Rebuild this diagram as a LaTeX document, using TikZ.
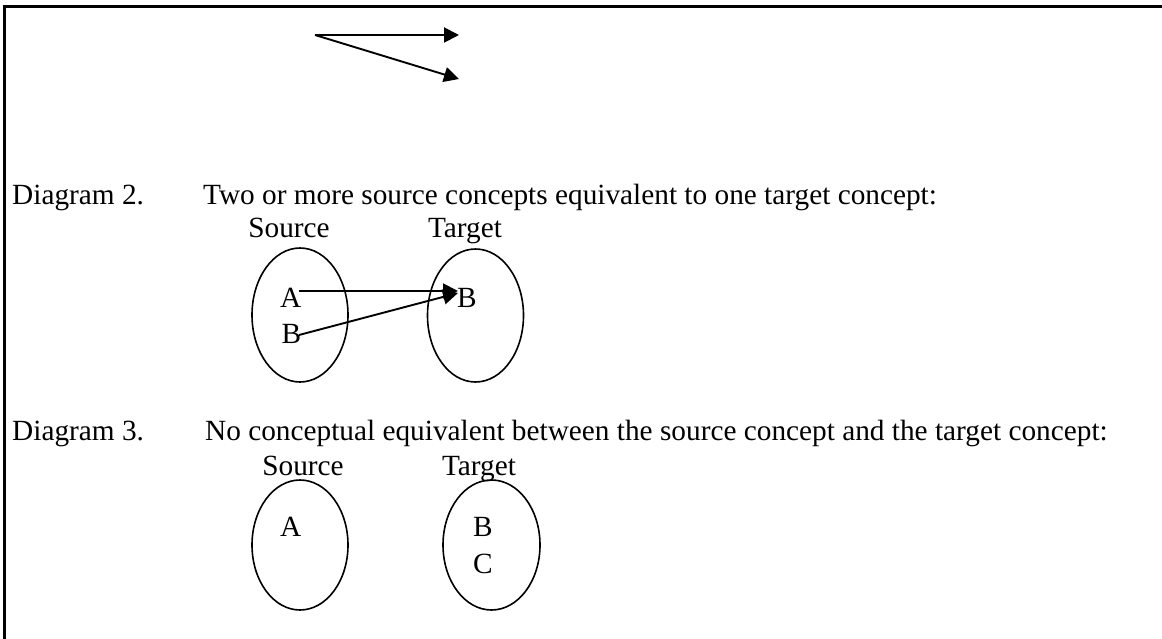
\documentclass[tikz,border=0pt]{standalone}
\usepackage{fontspec}
\setmainfont{Liberation Serif}
\usetikzlibrary{arrows.meta,shapes.geometric}
\begin{document}
\begin{tikzpicture}[x=1pt,y=-1pt,
  txt/.style={inner sep=0pt,font=\fontsize{29.3}{35}\selectfont},
  oval/.style={draw,ellipse,line width=1.6pt,inner sep=0pt},
  conn/.style={line width=1.9pt,-{Triangle[length=15pt,width=15pt]}}]
\useasboundingbox (0,0) rectangle (1162,639);
% frame
\draw[line width=3pt] (4.5,660) -- (4.5,7) -- (1180,7);
% top arrows
\coordinate (t0) at (315,35);
\coordinate (t1) at (459,35);
\coordinate (t2) at (459,79);
\draw[conn] (t0) -- (t1);
\draw[conn] (t0) -- (t2);
% Diagram 2
\node[txt,anchor=base west] (d2) at (12,205) {Diagram 2.};
\node[txt,anchor=base west] (d2t) at (203,205) {Two or more source concepts equivalent to one target concept:};
\node[txt,anchor=base] (s2) at (289,238) {Source};
\node[txt,anchor=base] (g2) at (465,238) {Target};
\node[oval,minimum width=96pt,minimum height=134pt] (e2s) at (300,315) {};
\node[oval,minimum width=96pt,minimum height=133pt] (e2t) at (475.5,315.5) {};
\node[txt,anchor=base west] (a2) at (280,307) {A};
\node[txt,anchor=base west] (b2) at (281.5,343) {B};
\node[txt,anchor=base west] (b2r) at (457,307) {B};
\coordinate (a2o) at (299,291);
\coordinate (b2o) at (299,335);
\coordinate (b2i) at (458,291);
\coordinate (b2j) at (458,293);
\draw[conn] (a2o) -- (b2i);
\draw[conn] (b2o) -- (b2j);
% Diagram 3
\node[txt,anchor=base west] (d3) at (12,440) {Diagram 3.};
\node[txt,anchor=base west] (d3t) at (205,440) {No conceptual equivalent between the source concept and the target concept:};
\node[txt,anchor=base] (s3) at (303,475) {Source};
\node[txt,anchor=base] (g3) at (479,475) {Target};
\node[oval,minimum width=96pt,minimum height=130pt] (e3s) at (300,545) {};
\node[oval,minimum width=97pt,minimum height=130pt] (e3t) at (491.5,545) {};
\node[txt,anchor=base west] (a3) at (280,536) {A};
\node[txt,anchor=base west] (b3) at (473,536) {B};
\node[txt,anchor=base west] (c3) at (473,573) {C};
\end{tikzpicture}
\end{document}
